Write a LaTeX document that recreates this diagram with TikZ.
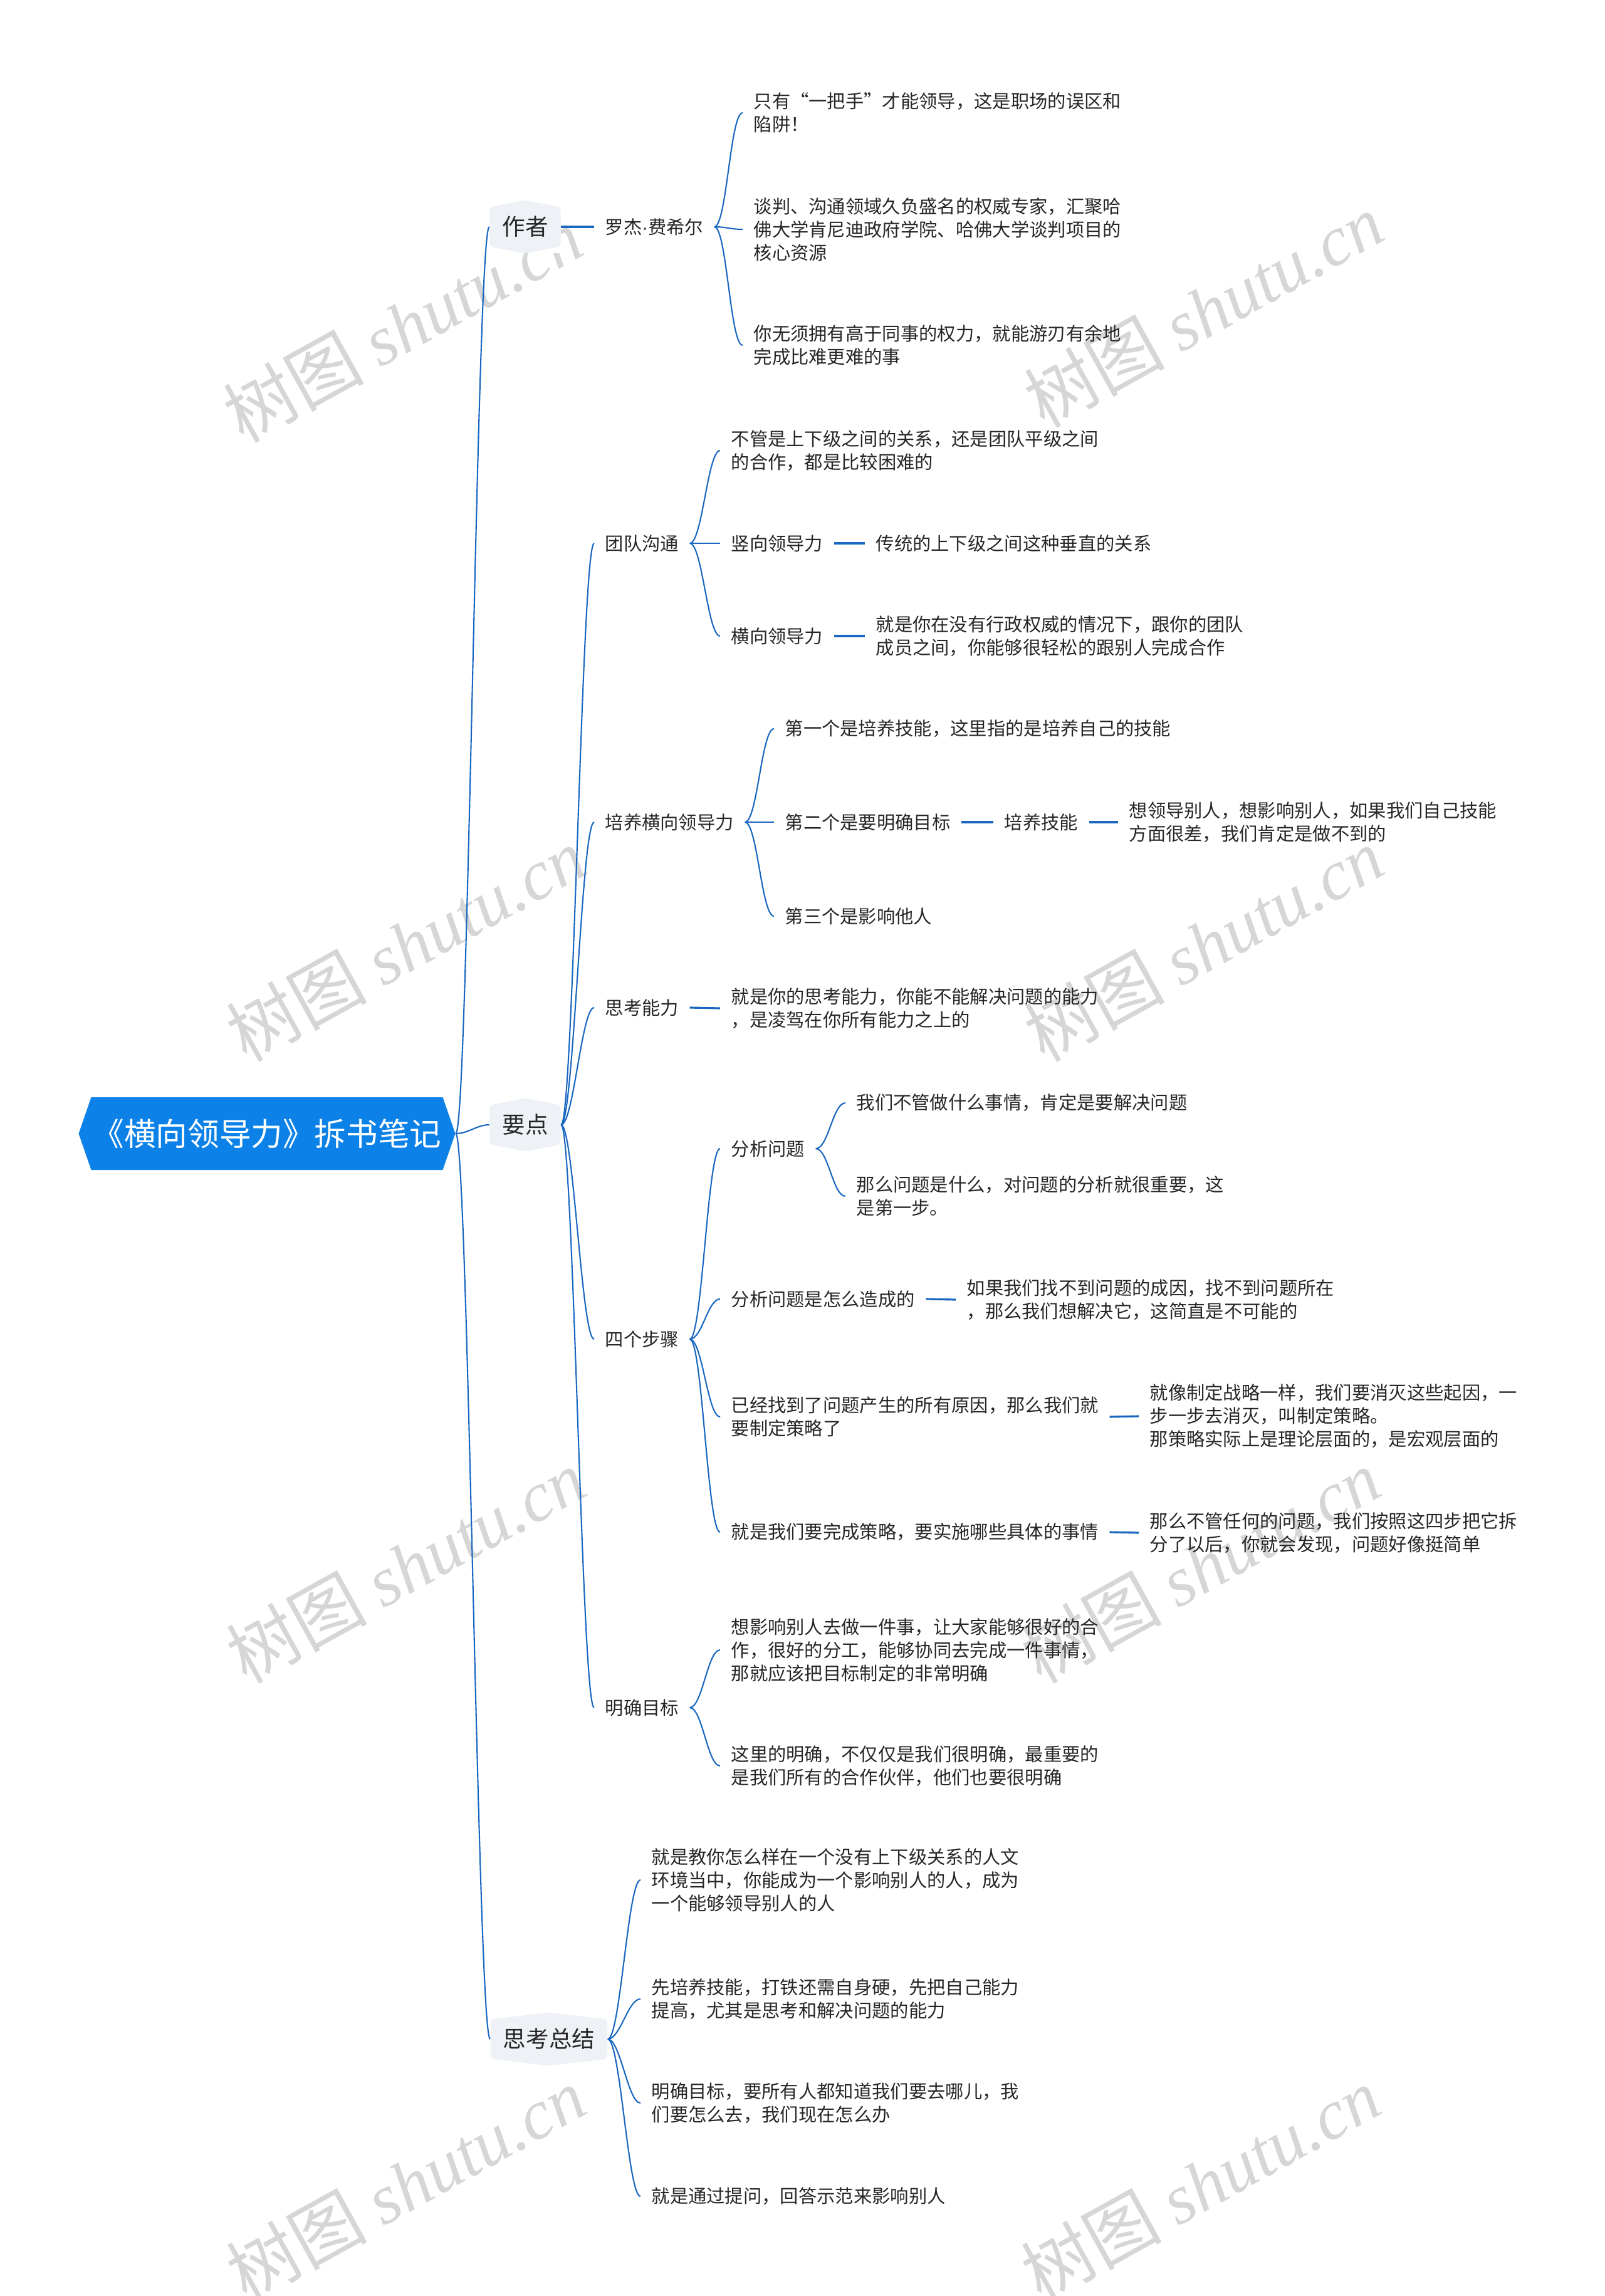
\documentclass[tikz,border=0pt]{standalone}
\usepackage{fontspec}
\setmainfont{Noto Sans CJK SC}
\newfontfamily\wmfont{Liberation Serif}
\newfontfamily\latinfont{Liberation Sans}

\definecolor{rootblue}{RGB}{12,130,232}
\definecolor{lineblue}{RGB}{25,103,192}
\definecolor{hexgray}{RGB}{238,241,245}
\definecolor{textgray}{RGB}{38,38,38}
\definecolor{wmgray}{RGB}{214,214,214}

\tikzset{
    leaf/.style={anchor=west, align=left, inner xsep=0.17cm, inner ysep=0.04cm,
        text=textgray, font=\fontsize{8.34pt}{10.53pt}\selectfont},
    hexbox/.style={minimum height=0.85cm, inner xsep=0.2cm, inner ysep=0pt, fill=white,
        text=textgray, font=\fontsize{10.4pt}{12pt}\selectfont,
        path picture={\fill[hexgray, rounded corners=0.05cm]
            ([yshift=-0.11cm]path picture bounding box.north west) -- (path picture bounding box.north)
            -- ([yshift=-0.11cm]path picture bounding box.north east) -- ([yshift=0.11cm]path picture bounding box.south east)
            -- (path picture bounding box.south) -- ([yshift=0.11cm]path picture bounding box.south west) -- cycle;}},
    rootbox/.style={minimum width=6.01cm, minimum height=1.16cm, inner sep=0pt, fill=white,
        text=white, font=\fontsize{14.4pt}{16pt}\selectfont,
        path picture={\fill[rootblue]
            (path picture bounding box.west) -- ([xshift=0.2cm]path picture bounding box.north west)
            -- ([xshift=-0.2cm]path picture bounding box.north east) -- (path picture bounding box.east)
            -- ([xshift=-0.2cm]path picture bounding box.south east) -- ([xshift=0.2cm]path picture bounding box.south west) -- cycle;}},
    branch/.style={draw=lineblue, line width=0.6pt,
        to path={.. controls +(0.2,0) and +(-0.2,0) .. (\tikztotarget)}},
    stem/.style={draw=lineblue, line width=0.9pt},
    wmark/.style={text=wmgray, rotate=29, font=\fontsize{32pt}{32pt}\selectfont}
}

\begin{document}
\begin{tikzpicture}[y=-1cm]
    \useasboundingbox (0,0) rectangle (25.6,36.64);

    % watermark
    \node[wmark] (wm1) at (6.42,5.19) {树图 {\wmfont\itshape shutu.cn}};
    \node[wmark] (wm2) at (19.20,4.95) {树图 {\wmfont\itshape shutu.cn}};
    \node[wmark] (wm3) at (6.47,15.07) {树图 {\wmfont\itshape shutu.cn}};
    \node[wmark] (wm4) at (19.20,15.07) {树图 {\wmfont\itshape shutu.cn}};
    \node[wmark] (wm5) at (6.47,24.99) {树图 {\wmfont\itshape shutu.cn}};
    \node[wmark] (wm6) at (19.15,24.99) {树图 {\wmfont\itshape shutu.cn}};
    \node[wmark] (wm7) at (6.47,34.85) {树图 {\wmfont\itshape shutu.cn}};
    \node[wmark] (wm8) at (19.15,34.85) {树图 {\wmfont\itshape shutu.cn}};

    % root and main branches
    \node[rootbox] (root) at (4.26,18.09) {《横向领导力》拆书笔记};
    \node[hexbox] (zz) at (8.38,3.62) {作者};
    \node[hexbox] (yd) at (8.38,17.95) {要点};
    \node[hexbox] (zj) at (8.76,32.54) {思考总结};

    % 作者
    \node[leaf] (fxe) at (9.48,3.62) {罗杰{\latinfont ·}费希尔};
    \node[leaf] (fxe1) at (11.85,1.80) {只有“一把手”才能领导，这是职场的误区和\\陷阱！};
    \node[leaf] (fxe2) at (11.85,3.66) {谈判、沟通领域久负盛名的权威专家，汇聚哈\\佛大学肯尼迪政府学院、哈佛大学谈判项目的\\核心资源};
    \node[leaf] (fxe3) at (11.85,5.51) {你无须拥有高于同事的权力，就能游刃有余地\\完成比难更难的事};

    % 要点
    \node[leaf] (tdgt) at (9.48,8.67) {团队沟通};
    \node[leaf] (tdgt1) at (11.49,7.19) {不管是上下级之间的关系，还是团队平级之间\\的合作，都是比较困难的};
    \node[leaf] (sxld) at (11.49,8.67) {竖向领导力};
    \node[leaf] (sxld1) at (13.80,8.67) {传统的上下级之间这种垂直的关系};
    \node[leaf] (hxld) at (11.49,10.15) {横向领导力};
    \node[leaf] (hxld1) at (13.80,10.15) {就是你在没有行政权威的情况下，跟你的团队\\成员之间，你能够很轻松的跟别人完成合作};

    \node[leaf] (pyhx) at (9.48,13.12) {培养横向领导力};
    \node[leaf] (pyhx1) at (12.35,11.63) {第一个是培养技能，这里指的是培养自己的技能};
    \node[leaf] (pyhx2) at (12.35,13.12) {第二个是要明确目标};
    \node[leaf] (pyjn) at (15.85,13.12) {培养技能};
    \node[leaf] (pyjn1) at (17.84,13.12) {想领导别人，想影响别人，如果我们自己技能\\方面很差，我们肯定是做不到的};
    \node[leaf] (pyhx3) at (12.35,14.62) {第三个是影响他人};

    \node[leaf] (sknl) at (9.48,16.08) {思考能力};
    \node[leaf] (sknl1) at (11.49,16.09) {就是你的思考能力，你能不能解决问题的能力\\，是凌驾在你所有能力之上的};

    \node[leaf] (sgbz) at (9.48,21.37) {四个步骤};
    \node[leaf] (fxwt) at (11.49,18.33) {分析问题};
    \node[leaf] (fxwt1) at (13.49,17.60) {我们不管做什么事情，肯定是要解决问题};
    \node[leaf] (fxwt2) at (13.49,19.09) {那么问题是什么，对问题的分析就很重要，这\\是第一步。};
    \node[leaf] (fxzc) at (11.49,20.73) {分析问题是怎么造成的};
    \node[leaf] (fxzc1) at (15.25,20.74) {如果我们找不到问题的成因，找不到问题所在\\，那么我们想解决它，这简直是不可能的};
    \node[leaf] (zdcl) at (11.49,22.61) {已经找到了问题产生的所有原因，那么我们就\\要制定策略了};
    \node[leaf] (zdcl1) at (18.17,22.60) {就像制定战略一样，我们要消灭这些起因，一\\步一步去消灭，叫制定策略。\\那策略实际上是理论层面的，是宏观层面的};
    \node[leaf] (sscl) at (11.49,24.45) {就是我们要完成策略，要实施哪些具体的事情};
    \node[leaf] (sscl1) at (18.17,24.46) {那么不管任何的问题，我们按照这四步把它拆\\分了以后，你就会发现，问题好像挺简单};

    \node[leaf] (mqmb) at (9.48,27.25) {明确目标};
    \node[leaf] (mqmb1) at (11.49,26.33) {想影响别人去做一件事，让大家能够很好的合\\作，很好的分工，能够协同去完成一件事情，\\那就应该把目标制定的非常明确};
    \node[leaf] (mqmb2) at (11.49,28.18) {这里的明确，不仅仅是我们很明确，最重要的\\是我们所有的合作伙伴，他们也要很明确};

    % 思考总结
    \node[leaf] (zj1) at (10.22,30.00) {就是教你怎么样在一个没有上下级关系的人文\\环境当中，你能成为一个影响别人的人，成为\\一个能够领导别人的人};
    \node[leaf] (zj2) at (10.22,31.90) {先培养技能，打铁还需自身硬，先把自己能力\\提高，尤其是思考和解决问题的能力};
    \node[leaf] (zj3) at (10.22,33.56) {明确目标，要所有人都知道我们要去哪儿，我\\们要怎么去，我们现在怎么办};
    \node[leaf] (zj4) at (10.22,35.05) {就是通过提问，回答示范来影响别人};

    % connectors
    \draw[branch] (root.east) to (zz.west);
    \draw[branch] (root.east) to (yd.west);
    \draw[branch] (root.east) to (zj.west);

    \draw[stem] (zz.east) -- (fxe.west);
    \draw[branch] (fxe.east) to (fxe1.west);
    \draw[branch] (fxe.east) to (fxe2.west);
    \draw[branch] (fxe.east) to (fxe3.west);

    \draw[branch] (yd.east) to (tdgt.west);
    \draw[branch] (yd.east) to (pyhx.west);
    \draw[branch] (yd.east) to (sknl.west);
    \draw[branch] (yd.east) to (sgbz.west);
    \draw[branch] (yd.east) to (mqmb.west);

    \draw[branch] (tdgt.east) to (tdgt1.west);
    \draw[branch] (tdgt.east) to (sxld.west);
    \draw[branch] (tdgt.east) to (hxld.west);
    \draw[stem] (sxld.east) -- (sxld1.west);
    \draw[stem] (hxld.east) -- (hxld1.west);

    \draw[branch] (pyhx.east) to (pyhx1.west);
    \draw[branch] (pyhx.east) to (pyhx2.west);
    \draw[branch] (pyhx.east) to (pyhx3.west);
    \draw[stem] (pyhx2.east) -- (pyjn.west);
    \draw[stem] (pyjn.east) -- (pyjn1.west);

    \draw[stem] (sknl.east) -- (sknl1.west);

    \draw[branch] (sgbz.east) to (fxwt.west);
    \draw[branch] (sgbz.east) to (fxzc.west);
    \draw[branch] (sgbz.east) to (zdcl.west);
    \draw[branch] (sgbz.east) to (sscl.west);
    \draw[branch] (fxwt.east) to (fxwt1.west);
    \draw[branch] (fxwt.east) to (fxwt2.west);
    \draw[stem] (fxzc.east) -- (fxzc1.west);
    \draw[stem] (zdcl.east) -- (zdcl1.west);
    \draw[stem] (sscl.east) -- (sscl1.west);

    \draw[branch] (mqmb.east) to (mqmb1.west);
    \draw[branch] (mqmb.east) to (mqmb2.west);

    \draw[branch] (zj.east) to (zj1.west);
    \draw[branch] (zj.east) to (zj2.west);
    \draw[branch] (zj.east) to (zj3.west);
    \draw[branch] (zj.east) to (zj4.west);
\end{tikzpicture}
\end{document}
